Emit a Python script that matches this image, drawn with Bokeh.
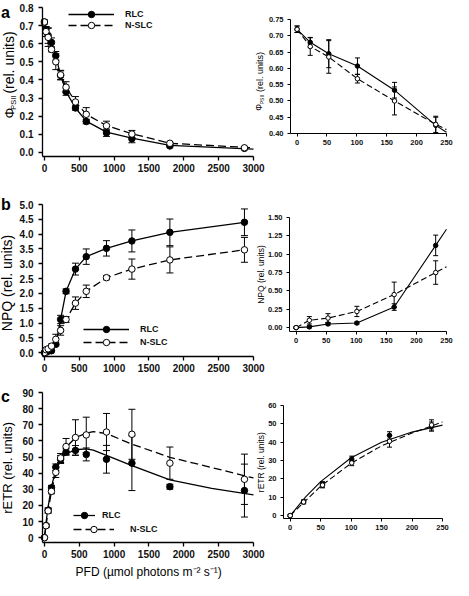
import math
from bokeh.plotting import figure
from bokeh.models import (Range1d, FixedTicker, NumeralTickFormatter, ColumnDataSource,
                          Whisker, TeeHead, Legend, LegendItem, Label, LinearAxis)
from bokeh.embed import file_html
from bokeh.resources import INLINE

# ---------------- data ----------------
PFD = [0, 22, 53, 101, 163, 232, 310, 445, 600, 890, 1255, 1800, 2870]

phi_rlc = [0.72, 0.68, 0.645, 0.607, 0.533, 0.425, 0.335, 0.245, 0.17, 0.108, 0.075, 0.035, 0.022]
phi_rlc_err = [0.01, 0.015, 0.043, 0.025, 0.024, 0.025, 0.02, 0.012, 0.012, 0.02, 0.022, 0.005, 0.006]
phi_nslc = [0.72, 0.667, 0.635, 0.568, 0.50, 0.428, 0.36, 0.278, 0.21, 0.147, 0.101, 0.05, 0.025]
phi_nslc_err = [0.01, 0.027, 0.05, 0.013, 0.043, 0.025, 0.03, 0.03, 0.037, 0.025, 0.02, 0.006, 0.006]
phi_line_x = [0, 22, 53, 101, 163, 232, 310, 445, 600, 890, 1255, 1800, 3000]
phi_line_rlc = [0.72, 0.68, 0.645, 0.607, 0.533, 0.425, 0.335, 0.245, 0.172, 0.112, 0.078, 0.038, 0.018]
phi_line_nslc = [0.72, 0.667, 0.635, 0.568, 0.50, 0.428, 0.36, 0.28, 0.21, 0.148, 0.103, 0.05, 0.025]
zoom_line_x = [0, 22, 53, 101, 163, 232, 250]
phi_zoom_rlc = [0.72, 0.68, 0.645, 0.607, 0.533, 0.425, 0.404]
phi_zoom_nslc = [0.72, 0.667, 0.635, 0.568, 0.50, 0.428, 0.412]

npq_rlc = [0.0, 0.01, 0.05, 0.062, 0.28, 1.12, 2.07, 2.82, 3.24, 3.52, 3.77, 4.06, 4.4]
npq_rlc_err = [0.01, 0.015, 0.015, 0.015, 0.045, 0.14, 0.08, 0.2, 0.26, 0.26, 0.37, 0.45, 0.45]
npq_nslc = [0.0, 0.1, 0.13, 0.22, 0.45, 0.75, 1.12, 1.67, 2.07, 2.53, 2.82, 3.13, 3.47]
npq_nslc_err = [0.01, 0.05, 0.06, 0.07, 0.17, 0.16, 0.1, 0.21, 0.21, 0.07, 0.34, 0.44, 0.42]
npq_zoom_rlc = [0.0, 0.01, 0.05, 0.062, 0.28, 1.12, 1.34]
npq_zoom_nslc = [0.0, 0.1, 0.13, 0.22, 0.45, 0.75, 0.83]

etr_rlc = [0, 7.5, 17, 30.9, 43.7, 48.5, 53.1, 54.1, 51.6, 48.6, 46.2, 31.6, 29.2]
etr_rlc_err = [0.5, 1, 1.5, 1.5, 2, 2.5, 2, 3, 4, 8.6, 17, 1.5, 16.4]
etr_nslc = [0, 7.4, 16.6, 28.7, 40.5, 49.4, 56.5, 62.1, 63.7, 65.5, 64.1, 46.2, 36.2]
etr_nslc_err = [0.5, 1, 1.5, 1.5, 3.2, 2.8, 5, 11, 11, 11.5, 15.5, 10, 15.6]
etr_fit_x = [0, 25, 50, 100, 150, 200, 250, 310, 445, 600, 700, 890, 1255, 1800, 2400, 3000]
etr_fit_rlc = [0, 10, 18.5, 31.5, 40, 45.5, 49.3, 52, 54.5, 55, 54.3, 51, 44.6, 35.8, 30.5, 26.5]
etr_fit_nslc = [0, 8, 16, 28.5, 38, 45, 51, 56, 62, 64.8, 65.8, 64.5, 58, 49.8, 43.5, 37]

x_ticks_full = [0, 500, 1000, 1500, 2000, 2500, 3000]
x_ticks_zoom = [0, 50, 100, 150, 200, 250]
phi_ticks = [0.0, 0.1, 0.2, 0.3, 0.4, 0.5, 0.6, 0.7, 0.8]
phi_ticks_zoom = [0.40, 0.45, 0.50, 0.55, 0.60, 0.65, 0.70, 0.75]
npq_ticks = [0.0, 0.5, 1.0, 1.5, 2.0, 2.5, 3.0, 3.5, 4.0, 4.5, 5.0]
npq_ticks_zoom = [0.0, 0.25, 0.5, 0.75, 1.0, 1.25, 1.5]
etr_ticks = [0, 10, 20, 30, 40, 50, 60, 70, 80, 90]
etr_ticks_zoom = [0, 10, 20, 30, 40, 50, 60]

# ---------------- layout (canvas pixel coordinates) ----------------
W, H = 453, 580
FONT = "Liberation Sans"
FR = {  # plot boxes: left, top, right, bottom
    "a_l": (42, 7, 253, 156), "a_r": (290, 19, 446, 133),
    "b_l": (42, 204, 253, 356), "b_r": (289, 217, 446, 331),
    "c_l": (42, 392, 253, 542), "c_r": (283, 405, 442, 518),
}
XR = {"a_l": (-28, 3000), "b_l": (-28, 3000), "c_l": (-28, 3000),
      "a_r": (-11, 250), "b_r": (-11, 250), "c_r": (-11, 250)}
YR = {"a_l": (-0.023, 0.8), "a_r": (0.40, 0.75), "b_l": (-0.13, 5.0),
      "b_r": (-0.053, 1.5), "c_l": (-3, 90), "c_r": (-1.6, 60)}


def canvas_ranges(key):
    L, T, R, B = FR[key]
    (x0, x1), (y0, y1) = XR[key], YR[key]
    sx = (x1 - x0) / (R - L)
    sy = (y1 - y0) / (B - T)
    xr = Range1d(start=x0 - L * sx, end=x0 + (W - L) * sx)
    yr = Range1d(start=y1 - (H - T) * sy, end=y1 + T * sy)
    return xr, yr


p = figure(width=W, height=H, output_backend="svg", toolbar_location=None,
           x_range=Range1d(0, W), y_range=Range1d(0, H),
           x_axis_type=None, y_axis_type=None, min_border=0,
           min_border_left=0, min_border_right=0, min_border_top=0, min_border_bottom=0)
p.background_fill_color = None
p.border_fill_color = None
p.outline_line_color = None
p.grid.visible = False
p.title.visible = False

for k in FR:
    xr, yr = canvas_ranges(k)
    p.extra_x_ranges[k] = xr
    p.extra_y_ranges[k] = yr


def add_axes(key, xticks, yticks, yfmt, small):
    (x0, x1), (y0, y1) = XR[key], YR[key]
    common = dict(x_range_name=key, y_range_name=key,
                  axis_line_color="black", axis_line_width=1 if small else 1.3,
                  major_tick_line_color="black", major_tick_line_width=1 if small else 1.3,
                  major_tick_out=3 if small else 4, major_tick_in=0,
                  minor_tick_line_color=None, major_label_text_font=FONT,
                  major_label_text_font_size="7.5px" if small else "10px",
                  major_label_text_font_style="bold",
                  major_label_text_color="#111111")
    xa = LinearAxis(fixed_location=y0, bounds=(x0, x1), ticker=FixedTicker(ticks=xticks),
                    major_label_standoff=3, **common)
    ya = LinearAxis(fixed_location=x0, bounds=(y0, y1), ticker=FixedTicker(ticks=yticks),
                    formatter=NumeralTickFormatter(format=yfmt),
                    major_label_standoff=4 if small else 5, **common)
    p.add_layout(xa, "below")
    p.add_layout(ya, "left")


def add_text(px, py, text, size, angle=0.0, bold=False, align="center"):
    p.add_layout(Label(x=px, y=H - py, text=text, angle=angle, text_font=FONT,
                       text_font_size=f"{size}px",
                       text_font_style="bold" if bold else "normal",
                       text_align=align, text_baseline="middle", text_color="black"))


def add_errors(key, xs, ys, errs, head):
    src = ColumnDataSource(dict(x=xs, up=[y + e for y, e in zip(ys, errs)],
                                lo=[y - e for y, e in zip(ys, errs)]))
    w = Whisker(source=src, base="x", upper="up", lower="lo", dimension="height",
                x_range_name=key, y_range_name=key,
                line_color="black", line_width=1, level="underlay",
                upper_head=TeeHead(size=head, line_color="black", line_width=1),
                lower_head=TeeHead(size=head, line_color="black", line_width=1))
    p.add_layout(w)


def add_series(key, small, lx, ly_rlc, ly_nslc, xs, rlc, rlc_e, nslc, nslc_e):
    lw = 1.1 if small else 1.3
    size = 4.5 if small else 6.5
    head = 5 if small else 7
    dash = "6 3" if small else "8 4"
    rn = dict(x_range_name=key, y_range_name=key)
    add_errors(key, xs, rlc, rlc_e, head)
    add_errors(key, xs, nslc, nslc_e, head)
    ln_n = p.line(lx, ly_nslc, line_color="black", line_width=lw, line_dash=dash, **rn)
    ln_r = p.line(lx, ly_rlc, line_color="black", line_width=lw, **rn)
    sc_r = p.scatter(xs, rlc, marker="circle", size=size, fill_color="black",
                     line_color="black", line_width=1, **rn)
    sc_n = p.scatter(xs, nslc, marker="circle", size=size, fill_color="white",
                     line_color="black", line_width=1, **rn)
    return [ln_r, sc_r], [ln_n, sc_n]


def add_legend(label, renderers, gx, gcy, gw, standoff):
    gh = 16
    lg = Legend(items=[LegendItem(label=label, renderers=renderers)],
                location=(int(round(gx)), int(round(H - gcy - gh / 2))),
                orientation="vertical",
                glyph_width=int(round(gw)), glyph_height=gh,
                label_standoff=int(round(standoff)), spacing=0,
                padding=0, margin=0, border_line_color=None, background_fill_alpha=0,
                label_text_font=FONT, label_text_font_size="9px", label_height=10,
                label_text_font_style="bold",
                label_text_baseline="middle", label_text_color="#111111")
    p.add_layout(lg)


VERT = math.pi / 2
n6 = 6

# ---- panel a ----
add_axes("a_l", x_ticks_full, phi_ticks, "0.0", False)
r, n = add_series("a_l", False, phi_line_x, phi_line_rlc, phi_line_nslc,
                  PFD, phi_rlc, phi_rlc_err, phi_nslc, phi_nslc_err)
add_legend("RLC", r, 68.5, 14.3, 46, 11)
add_legend("N-SLC", n, 68.5, 25.3, 46, 11)
add_axes("a_r", x_ticks_zoom, phi_ticks_zoom, "0.00", True)
add_series("a_r", True, zoom_line_x, phi_zoom_rlc, phi_zoom_nslc, PFD[:n6],
           phi_rlc[:n6], phi_rlc_err[:n6], phi_nslc[:n6], phi_nslc_err[:n6])
add_text(0.5, 11.5, "a", 16, bold=True, align="left")
add_text(9.1, 112.5, "Φ", 13.5, angle=VERT)
add_text(13.0, 102.2, "PSII", 7.5, angle=VERT)
add_text(8.5, 62.0, "(rel. units)", 14, angle=VERT)
add_text(258.7, 106.8, "Φ", 8.5, angle=VERT)
add_text(261.2, 99.0, "PSII", 5, angle=VERT)
add_text(259.0, 71.5, "(rel. units)", 9, angle=VERT)

# ---- panel b ----
add_axes("b_l", x_ticks_full, npq_ticks, "0.0", False)
r, n = add_series("b_l", False, PFD, npq_rlc, npq_nslc,
                  PFD, npq_rlc, npq_rlc_err, npq_nslc, npq_nslc_err)
add_legend("RLC", r, 83.1, 329.2, 46, 11)
add_legend("N-SLC", n, 83.1, 341.5, 46, 11)
add_axes("b_r", x_ticks_zoom, npq_ticks_zoom, "0.00", True)
add_series("b_r", True, zoom_line_x, npq_zoom_rlc, npq_zoom_nslc, PFD[:n6],
           npq_rlc[:n6], npq_rlc_err[:n6], npq_nslc[:n6], npq_nslc_err[:n6])
add_text(0.5, 204, "b", 16, bold=True, align="left")
add_text(6.6, 282.5, "NPQ (rel. units)", 14, angle=VERT)
add_text(260.5, 274.0, "NPQ (rel. units)", 8.5, angle=VERT)

# ---- panel c ----
add_axes("c_l", x_ticks_full, etr_ticks, "0", False)
r, n = add_series("c_l", False, etr_fit_x, etr_fit_rlc, etr_fit_nslc,
                  PFD, etr_rlc, etr_rlc_err, etr_nslc, etr_nslc_err)
add_legend("RLC", r, 73.3, 515.1, 21.5, 6.6)
add_legend("N-SLC", n, 73.3, 528.7, 41, 16.4)
add_axes("c_r", x_ticks_zoom, etr_ticks_zoom, "0", True)
add_series("c_r", True, etr_fit_x[:7], etr_fit_rlc[:7], etr_fit_nslc[:7], PFD[:n6],
           etr_rlc[:n6], etr_rlc_err[:n6], etr_nslc[:n6], etr_nslc_err[:n6])
add_text(0.5, 396, "c", 16, bold=True, align="left")
add_text(6.8, 467.4, "rETR (rel. units)", 13, angle=VERT)
add_text(260.0, 461.7, "rETR (rel. units)", 8.5, angle=VERT)
add_text(148.2, 571.5, "PFD (µmol photons m⁻² s⁻¹)", 12)

open("out.html", "w").write(file_html(p, INLINE))
